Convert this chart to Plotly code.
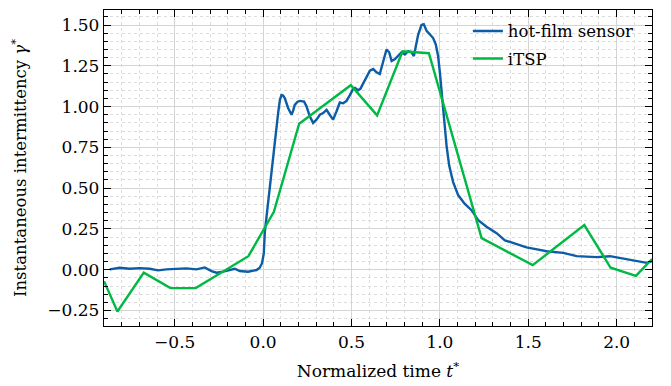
import plotly.graph_objects as go

# hot-film sensor
hf_t = [-0.868, -0.811, -0.755, -0.698, -0.641, -0.594, -0.547, -0.490, -0.434, -0.377,
        -0.330, -0.292, -0.264, -0.226, -0.188, -0.160, -0.132, -0.085, -0.037, -0.019,
        -0.006, 0.004, 0.010, 0.028, 0.047, 0.066, 0.085, 0.095, 0.104, 0.113,
        0.123, 0.142, 0.161, 0.170, 0.179, 0.195, 0.208, 0.232, 0.246, 0.264,
        0.283, 0.302, 0.321, 0.340, 0.359, 0.377, 0.396, 0.415, 0.434, 0.453,
        0.472, 0.491, 0.510, 0.519, 0.538, 0.551, 0.566, 0.585, 0.604, 0.623,
        0.642, 0.660, 0.679, 0.698, 0.713, 0.727, 0.745, 0.764, 0.783, 0.802,
        0.821, 0.840, 0.853, 0.864, 0.877, 0.896, 0.909, 0.925, 0.943, 0.962,
        0.977, 0.990, 1.000, 1.010, 1.019, 1.028, 1.038, 1.053, 1.075, 1.104,
        1.140, 1.179, 1.217, 1.264, 1.321, 1.368, 1.420, 1.490, 1.550, 1.604,
        1.698, 1.774, 1.830, 1.887, 1.962, 2.037, 2.113, 2.170, 2.198]
hf_gamma = [0.002, 0.012, 0.006, 0.010, 0.006, -0.004, 0.002, 0.006, 0.008, 0.002,
            0.014, -0.008, -0.018, -0.012, -0.002, 0.006, -0.008, -0.012, -0.002, 0.012,
            0.040, 0.100, 0.234, 0.416, 0.597, 0.758, 0.960, 1.040, 1.071, 1.068,
            1.051, 0.990, 0.950, 0.975, 1.010, 1.030, 1.035, 1.030, 1.000, 0.940,
            0.900, 0.920, 0.950, 0.960, 0.980, 0.950, 0.920, 0.970, 1.025, 1.020,
            1.035, 1.070, 1.110, 1.115, 1.100, 1.110, 1.140, 1.180, 1.220, 1.230,
            1.210, 1.200, 1.270, 1.350, 1.333, 1.280, 1.290, 1.310, 1.333, 1.320,
            1.340, 1.333, 1.310, 1.370, 1.440, 1.500, 1.505, 1.464, 1.444, 1.420,
            1.380, 1.310, 1.210, 1.090, 0.970, 0.879, 0.758, 0.637, 0.537, 0.456,
            0.405, 0.365, 0.304, 0.264, 0.224, 0.180, 0.160, 0.137, 0.125, 0.113,
            0.103, 0.083, 0.080, 0.077, 0.083, 0.068, 0.056, 0.042, 0.052]

# iTSP
itsp_t = [-0.900, -0.824, -0.675, -0.524, -0.381, -0.083, 0.061, 0.204, 0.496, 0.645,
          0.789, 0.938, 1.236, 1.525, 1.817, 1.966, 2.109, 2.200]
itsp_gamma = [-0.070, -0.256, -0.018, -0.113, -0.113, 0.083, 0.355, 0.895, 1.131, 0.946,
              1.339, 1.327, 0.194, 0.028, 0.274, 0.012, -0.038, 0.065]

x_ticks = [-0.5, 0.0, 0.5, 1.0, 1.5, 2.0]
x_labels = ["−0.5", "0.0", "0.5", "1.0", "1.5", "2.0"]
y_ticks = [-0.25, 0.0, 0.25, 0.5, 0.75, 1.0, 1.25, 1.5]
y_labels = ["−0.25", "0.00", "0.25", "0.50", "0.75", "1.00", "1.25", "1.50"]

FONT = "DejaVu Serif"

fig = go.Figure()
fig.add_trace(go.Scatter(x=hf_t, y=hf_gamma, mode="lines", name="hot-film sensor",
                         line=dict(color="#0C5DA5", width=2.4), legendgroup="a"))
fig.add_trace(go.Scatter(x=itsp_t, y=itsp_gamma, mode="lines", name="iTSP",
                         line=dict(color="#00B945", width=2.4), legendgroup="b"))

axis_common = dict(
    showline=True, linecolor="black", linewidth=1.3, mirror="allticks",
    ticks="inside", ticklen=7, tickwidth=1.1, tickcolor="black",
    showgrid=True, gridcolor="#d4d4d4", gridwidth=1, zeroline=False,
    tickfont=dict(family=FONT, size=17, color="black"),
)

fig.update_xaxes(
    range=[-0.9, 2.2], tickvals=x_ticks, ticktext=x_labels,
    title=dict(text="Normalized time <i>t</i><sup>*</sup>", font=dict(family=FONT, size=17, color="black"), standoff=14),
    minor=dict(dtick=0.1, tick0=0, ticks="inside", ticklen=3.5, tickwidth=1, tickcolor="black",
               showgrid=True, gridcolor="#dcdcdc", griddash="dot", gridwidth=1),
    **axis_common,
)
fig.update_yaxes(
    range=[-0.345, 1.592], tickvals=y_ticks, ticktext=y_labels,
    title=dict(text="Instantaneous intermittency <i>γ</i><sup>*</sup>", font=dict(family=FONT, size=16.5, color="black"), standoff=16),
    minor=dict(dtick=0.05, tick0=0, ticks="inside", ticklen=3.5, tickwidth=1, tickcolor="black",
               showgrid=True, gridcolor="#dcdcdc", griddash="dot", gridwidth=1),
    **axis_common,
)

fig.update_layout(
    width=671, height=386,
    margin=dict(l=104, r=19, t=9, b=57),
    plot_bgcolor="white", paper_bgcolor="white",
    font=dict(family=FONT, size=16, color="black"),
    legend=dict(x=0.664, y=0.988, xanchor="left", yanchor="top", bgcolor="rgba(0,0,0,0)",
                font=dict(family=FONT, size=16.5, color="black"), tracegroupgap=3),
    showlegend=True,
)

fig.write_html("out.html")
